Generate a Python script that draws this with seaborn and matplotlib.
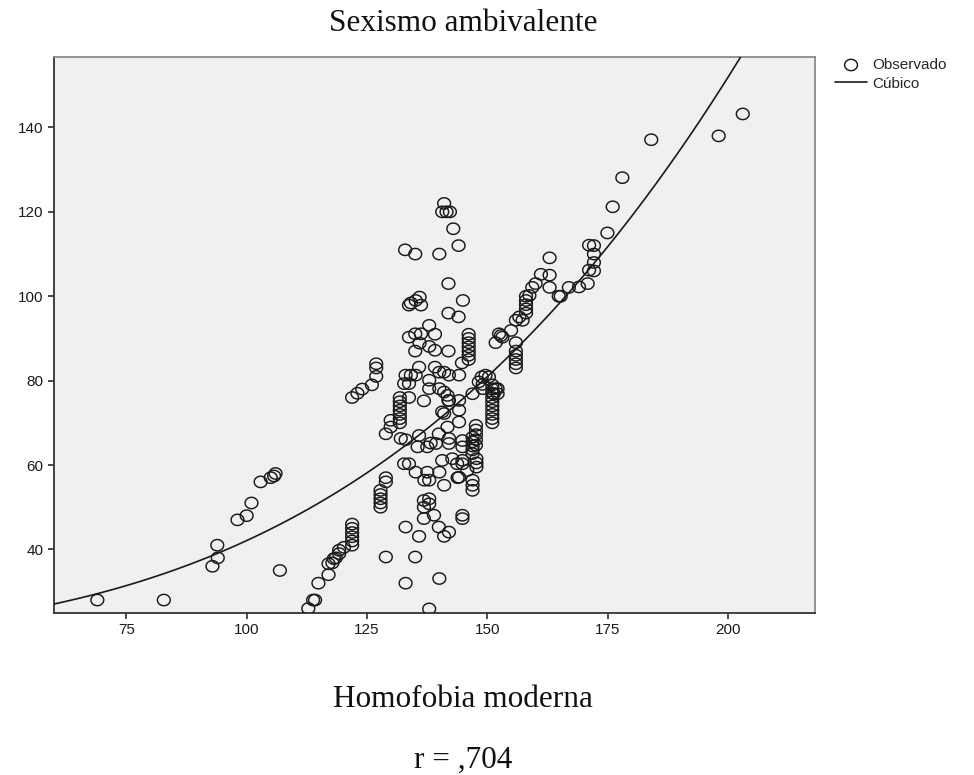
import numpy as np
import pandas as pd
import matplotlib
matplotlib.use("Agg")
import matplotlib.pyplot as plt
from matplotlib.path import Path
import seaborn as sns

# ---------------- data ----------------
homofobia = [
    69.0, 82.8, 92.9, 94.0, 93.9, 98.1, 100.0, 101.0, 102.9, 105.0,
    105.7, 106.0, 106.9, 112.8, 113.8, 114.2, 114.9, 117.0, 117.0, 117.8,
    118.1, 118.5, 119.2, 119.2, 120.2, 121.9, 121.9, 121.9, 121.9, 121.9,
    121.9, 121.9, 123.0, 124.0, 126.0, 126.9, 126.9, 126.9, 127.8, 127.8,
    127.8, 127.8, 127.8, 128.9, 128.9, 128.9, 129.9, 129.9, 128.9, 131.8,
    131.8, 131.8, 131.8, 131.8, 131.8, 131.8, 133.7, 132.0, 133.0, 132.7,
    133.7, 133.0, 133.0, 132.7, 133.7, 133.0, 134.1, 135.1, 133.7, 135.0,
    136.2, 135.0, 135.9, 133.7, 134.1, 135.1, 135.9, 136.2, 132.9, 135.0,
    135.8, 135.8, 135.5, 136.8, 135.1, 135.0, 135.8, 136.8, 136.8, 136.8,
    136.9, 137.9, 137.5, 137.5, 137.9, 137.9, 137.9, 137.9, 137.9, 137.9,
    137.9, 138.2, 138.9, 139.1, 139.1, 139.1, 139.3, 139.9, 139.9, 140.0,
    140.0, 140.0, 140.0, 140.0, 140.6, 140.6, 141.0, 141.0, 141.0, 141.0,
    141.0, 141.0, 140.6, 141.5, 142.2, 141.7, 141.9, 141.7, 141.9, 141.9,
    141.9, 142.0, 142.0, 142.0, 142.0, 142.0, 142.7, 142.9, 143.7, 143.8,
    144.0, 144.0, 144.1, 144.1, 144.1, 144.1, 144.1, 144.7, 144.8, 144.8,
    144.8, 144.8, 144.8, 144.8, 144.9, 146.1, 146.1, 146.1, 146.1, 146.1,
    146.1, 146.1, 145.8, 146.9, 146.9, 146.9, 146.9, 146.9, 146.9, 146.9,
    146.9, 147.7, 147.7, 147.7, 147.6, 147.6, 147.6, 147.6, 147.6, 146.9,
    148.2, 148.8, 149.0, 149.0, 149.6, 150.3, 151.0, 151.0, 151.0, 151.0,
    151.0, 151.0, 151.0, 151.0, 151.0, 151.0, 151.3, 151.7, 152.1, 152.1,
    151.7, 152.4, 152.8, 153.1, 154.9, 155.9, 155.9, 155.9, 155.9, 155.9,
    155.9, 155.9, 156.6, 157.3, 158.0, 158.0, 158.0, 158.0, 158.0, 158.7,
    159.3, 160.0, 161.1, 162.9, 162.9, 162.9, 164.8, 165.2, 166.9, 169.0,
    170.8, 171.1, 172.1, 172.1, 172.1, 172.1, 171.1, 174.9, 176.0, 178.0,
    184.0, 198.0, 203.0,
]
sexismo = [
    28.0, 28.0, 36.0, 38.0, 41.0, 47.0, 48.0, 51.0, 56.0, 57.0,
    57.4, 58.0, 35.0, 26.0, 28.0, 28.0, 32.0, 34.0, 36.6, 36.8,
    37.8, 38.0, 39.0, 39.8, 40.5, 41.0, 42.0, 43.0, 44.0, 45.0,
    46.0, 76.0, 77.0, 78.0, 79.0, 81.0, 83.0, 84.0, 50.0, 51.0,
    52.0, 53.0, 54.0, 56.0, 57.0, 67.4, 69.0, 70.6, 38.2, 70.0,
    71.0, 72.0, 73.0, 74.0, 75.0, 76.0, 76.0, 66.3, 66.0, 60.3,
    60.3, 45.3, 32.0, 79.3, 79.3, 81.3, 81.3, 81.3, 90.3, 91.1,
    91.1, 87.0, 88.9, 97.9, 98.4, 99.0, 99.8, 97.9, 111.0, 110.0,
    83.2, 67.0, 64.3, 75.2, 58.3, 38.2, 43.1, 47.3, 51.6, 50.0,
    56.4, 56.4, 58.3, 64.3, 52.0, 50.8, 80.1, 78.1, 88.1, 93.1,
    25.9, 65.2, 48.1, 91.0, 87.2, 83.2, 65.1, 67.4, 45.3, 58.3,
    33.1, 78.1, 82.0, 110.0, 61.1, 72.6, 72.2, 55.2, 43.1, 77.3,
    82.0, 122.0, 120.0, 120.0, 120.0, 76.5, 75.3, 69.0, 87.0, 96.0,
    103.0, 81.3, 66.3, 65.1, 75.3, 44.1, 61.5, 116.0, 60.3, 57.0,
    112.0, 95.1, 81.3, 73.0, 70.2, 75.3, 57.1, 84.2, 65.8, 64.3,
    61.1, 60.3, 48.1, 47.3, 99.0, 85.0, 86.0, 87.0, 88.0, 89.0,
    90.0, 91.0, 58.7, 54.0, 55.2, 56.4, 62.7, 63.6, 64.5, 65.5,
    66.6, 59.5, 60.5, 61.5, 64.7, 66.0, 67.2, 68.3, 69.4, 76.9,
    79.7, 80.9, 79.1, 78.1, 81.3, 80.9, 70.0, 71.0, 72.0, 73.0,
    74.0, 75.0, 76.0, 77.0, 78.0, 79.0, 76.9, 78.1, 78.1, 76.9,
    89.0, 91.1, 90.7, 90.3, 91.9, 83.0, 84.0, 85.0, 86.0, 87.0,
    89.0, 94.3, 95.1, 94.3, 96.0, 97.0, 98.0, 99.0, 100.0, 100.2,
    102.1, 103.0, 105.2, 102.1, 105.0, 109.1, 100.0, 100.0, 102.1, 102.2,
    103.0, 106.2, 106.0, 108.0, 110.0, 112.0, 112.1, 115.0, 121.2, 128.1,
    137.1, 138.0, 143.2,
]

# points ("Cúbico")
curve_x = [60.0, 75.0, 100.0, 117.2, 131.0, 145.5, 149.7, 160.7, 167.3, 174.6, 181.6, 188.5, 195.4, 203.2]
curve_y = [26.3, 32.2, 43.1, 52.4, 62.7, 75.3, 79.4, 92.3, 101.8, 112.5, 122.8, 133.0, 143.8, 156.6]

x_ticks = [75, 100, 125, 150, 175, 200]
y_ticks = [40, 60, 80, 100, 120, 140]

title_text = "Sexismo ambivalente"
xlabel_text = "Homofobia moderna"
r_text = "r = ,704"
legend_labels = ["Observado", "Cúbico"]

# ---------------- styling ----------------
sns.set_theme(style="ticks")
plt.rcParams["font.family"] = ["Liberation Sans", "DejaVu Sans"]

W, H = 974, 775
fig = plt.figure(figsize=(W / 100, H / 100), dpi=100)
left, right, top, bottom = 54, 815, 57, 612.7
ax = fig.add_axes([left / W, 1 - bottom / H, (right - left) / W, (bottom - top) / H])
ax.set_facecolor("#F0F0F0")
ax.set_xlim(60, 218)
ax.set_ylim(25, 156.7)

# slightly wide open-ellipse marker
t = np.linspace(0, 2 * np.pi, 49)
ell = Path(np.column_stack([1.13 * np.cos(t), np.sin(t)]))

df = pd.DataFrame({"Homofobia moderna": homofobia, "Sexismo ambivalente": sexismo})
sns.scatterplot(data=df, x="Homofobia moderna", y="Sexismo ambivalente",
                marker=ell, s=85, facecolor="none", edgecolor="#1a1a1a",
                linewidth=1.05, ax=ax, zorder=3)

sns.regplot(x=curve_x, y=curve_y, order=3, scatter=False, ci=None,
            truncate=False, ax=ax,
            line_kws=dict(color="#1a1a1a", lw=1.2, zorder=4))

points = ax.collections[0]
curve = ax.lines[-1]

ax.set_xlim(60, 218)
ax.set_ylim(25, 156.7)
ax.set_xticks(x_ticks)
ax.set_yticks(y_ticks)
ax.set_xlabel("")
ax.set_ylabel("")
ax.tick_params(direction="out", length=4.5, width=1.1, colors="#1a1a1a",
               labelsize=11, pad=3)

for s in ["left", "bottom"]:
    ax.spines[s].set_color("#333333")
    ax.spines[s].set_linewidth(1.3)
for s in ["top", "right"]:
    ax.spines[s].set_color("#8a8a8a")
    ax.spines[s].set_linewidth(1.3)

leg = ax.legend([points, curve], legend_labels,
                loc="upper left", bbox_to_anchor=(835 / W, 1 - 58 / H),
                bbox_transform=fig.transFigure, frameon=False, fontsize=11,
                borderpad=0, borderaxespad=0, handlelength=2.1,
                handletextpad=0.35, labelspacing=0.3)

serif = ["Liberation Serif", "DejaVu Serif"]
fig.text(463 / W, 1 - 31 / H, title_text, ha="center", va="baseline",
         fontsize=22.5, family=serif, color="#111111")
fig.text(463 / W, 1 - 706.7 / H, xlabel_text, ha="center", va="baseline",
         fontsize=22.5, family=serif, color="#111111")
fig.text(463 / W, 1 - 768.3 / H, r_text, ha="center", va="baseline",
         fontsize=22.5, family=serif, color="#111111")

fig.savefig("out.png", dpi=100)
